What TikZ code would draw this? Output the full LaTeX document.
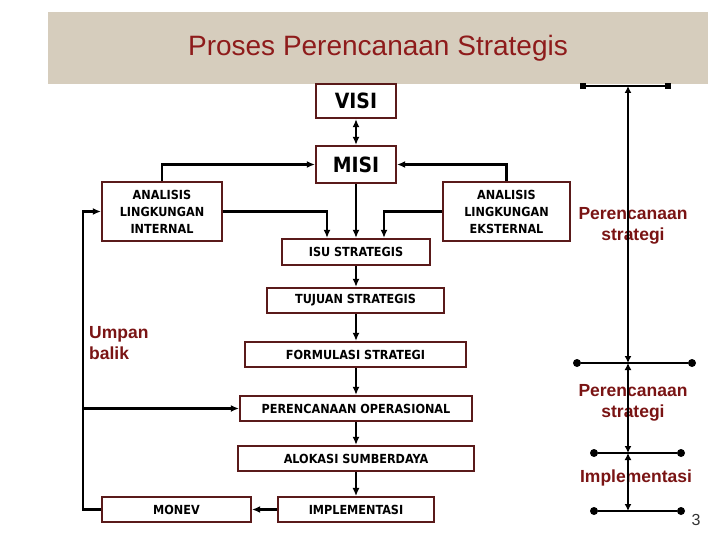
\documentclass[tikz,border=0pt]{standalone}
\usepackage{fontspec}
\setmainfont{Liberation Sans}
\newfontfamily\boxf{DejaVu Sans Condensed}
\usetikzlibrary{arrows.meta}
\definecolor{bandc}{HTML}{D6CDBD}
\definecolor{titlec}{HTML}{8E1B1B}
\definecolor{labc}{HTML}{7A1414}
\definecolor{boxc}{HTML}{5A1A1A}
\tikzset{
  box/.style={draw=boxc, line width=2.2pt, fill=white, inner sep=0pt, align=center,
    font=\boxf\bfseries\fontsize{12.5}{17}\selectfont},
  bigbox/.style={box, font=\boxf\bfseries\fontsize{21}{24}\selectfont},
  arr/.style={-{Latex[length=8pt,width=7pt]}, line width=2.2pt},
  darr/.style={{Latex[length=8pt,width=7pt]}-{Latex[length=8pt,width=7pt]}, line width=2.2pt},
  tarr/.style={{Latex[length=7pt,width=7pt]}-{Latex[length=7pt,width=7pt]}, line width=2pt},
  bar/.style={line width=2.2pt},
  lab/.style={text=labc, font=\bfseries\fontsize{17.5}{21}\selectfont, align=center, inner sep=0pt},
  dot/.style={circle, fill=black, inner sep=0pt, minimum size=8pt},
  sq/.style={rectangle, fill=black, inner sep=0pt, minimum size=6pt}
}
\begin{document}
\begin{tikzpicture}[x=1pt,y=-1pt]
\useasboundingbox (0,0) rectangle (720,540);
\fill[white] (0,0) rectangle (720,540);
% title band
\fill[bandc] (48,12) rectangle (708,84);
\node[text=titlec, font=\fontsize{28}{32}\selectfont, inner sep=0pt] (title) at (378,48) {Proses Perencanaan Strategis};

% right-side labels (drawn under the timeline)
\node[lab] (ps1) at (633,225.5) {Perencanaan\\strategi};
\node[lab] (ps2) at (633,402.5) {Perencanaan\\strategi};
\node[lab] (imp) at (636,478) {Implementasi};
\node[lab, anchor=west, align=left] (ub) at (89,343) {Umpan\\balik};
\node[font=\fontsize{16}{18}\selectfont, text=black!80, inner sep=0pt] (pg) at (696,520) {3};

% boxes
\node[bigbox, minimum width=80pt, minimum height=34pt] (visi) at (356,101) {VISI};
\node[bigbox, minimum width=80pt, minimum height=37pt] (misi) at (356,164.5) {MISI};
\node[box, minimum width=120pt, minimum height=59pt] (int) at (162,211.5) {ANALISIS\\LINGKUNGAN\\INTERNAL};
\node[box, minimum width=127pt, minimum height=59pt] (ext) at (506.5,211.5) {ANALISIS\\LINGKUNGAN\\EKSTERNAL};
\node[box, minimum width=148pt, minimum height=26pt] (isu) at (356,252) {ISU STRATEGIS};
\node[box, minimum width=177pt, minimum height=25pt] (tuj) at (355.5,300.5) {TUJUAN STRATEGIS};
\node[box, minimum width=221pt, minimum height=25pt] (form) at (355.5,354.5) {FORMULASI STRATEGI};
\node[box, minimum width=232pt, minimum height=25pt] (po) at (356,408.5) {PERENCANAAN OPERASIONAL};
\node[box, minimum width=236pt, minimum height=25pt] (alo) at (356,458.5) {ALOKASI SUMBERDAYA};
\node[box, minimum width=156pt, minimum height=25pt] (impl) at (356,509.5) {IMPLEMENTASI};
\node[box, minimum width=149pt, minimum height=25pt] (monev) at (176.5,509.5) {MONEV};

% connectors
\draw[darr] (visi.south) -- (misi.north);
\draw[arr] (int.north) |- (misi.west);
\draw[arr] (ext.north) |- (misi.east);
\draw[arr] (misi.south) -- (isu.north);
\draw[arr] (int.east) -| ([xshift=-29pt]isu.north);
\draw[arr] (ext.west) -| ([xshift=28pt]isu.north);
\draw[arr] (isu.south) -- (tuj.north -| isu.south);
\draw[arr] (tuj.south -| isu.south) -- (form.north -| isu.south);
\draw[arr] (form.south -| isu.south) -- (po.north);
\draw[arr] (po.south) -- (alo.north);
\draw[-{Latex[length=8pt,width=7pt]}, line width=1.2pt] (alo.south) -- (impl.north);
\draw[arr] (impl.west) -- (monev.east);
\coordinate (fbb) at (83,509.5);
\coordinate (fbt) at (83,211.5);
\coordinate (fbm) at (83,408.5);
\draw[arr] (monev.west) -- (fbb) -- (fbt) -- (int.west);
\draw[arr] (fbm) -- (po.west);

% right timeline
\coordinate (t0) at (628,86);
\coordinate (t1) at (628,363);
\coordinate (t2) at (628,453);
\coordinate (t3) at (628,511);
\node[sq] (b0l) at (583,86) {};
\node[sq] (b0r) at (668,86) {};
\node[dot] (b1l) at (577,363) {};
\node[dot] (b1r) at (692,363) {};
\node[dot] (b2l) at (594,453) {};
\node[dot] (b2r) at (681,453) {};
\node[dot] (b3l) at (594,511) {};
\node[dot] (b3r) at (681,511) {};
\draw[bar] (b0l) -- (b0r);
\draw[bar] (b1l) -- (b1r);
\draw[bar] (b2l) -- (b2r);
\draw[bar] (b3l) -- (b3r);
\draw[tarr] (t0) -- (t1);
\draw[tarr] (t1) -- (t2);
\draw[tarr] (t2) -- (t3);
\end{tikzpicture}
\end{document}
